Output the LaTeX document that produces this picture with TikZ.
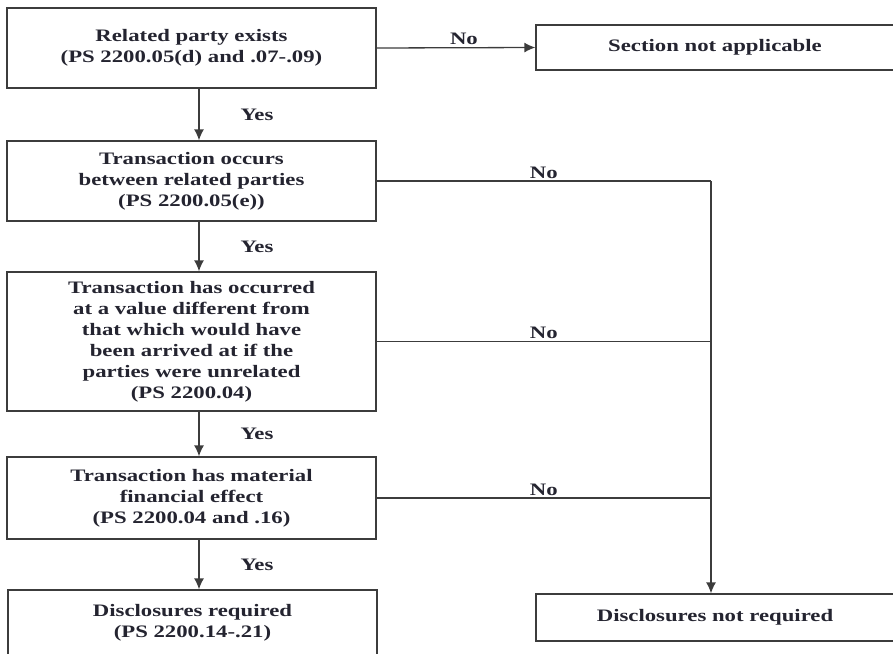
\documentclass[tikz,border=0pt]{standalone}
\usepackage{fontspec}
\setmainfont{Liberation Serif}[FakeStretch=1.3]
\usetikzlibrary{arrows.meta,calc}
\definecolor{fc_text}{RGB}{36, 36, 48}
\definecolor{fc_line}{RGB}{60, 60, 60}
\tikzstyle{bx}=[rectangle,draw=fc_line,line width=1.3pt,fill=white,
  text=fc_text,font=\fontsize{17.5}{21}\selectfont\bfseries,align=center,
  minimum width=369pt,inner sep=0pt]
\tikzstyle{lbl}=[text=fc_text,font=\fontsize{17.5}{21}\selectfont\bfseries,inner sep=2pt]
\tikzstyle{ln}=[draw=fc_line,line width=1.3pt]
\tikzstyle{arr}=[ln,-{Latex[length=11pt,width=10pt]}]
\tikzstyle{none}=[]

\begin{document}
\begin{tikzpicture}[x=1pt, y=-1pt]
            \useasboundingbox (0, 0) rectangle (893, 653);
            \clip (0, 0) rectangle (893, 653);
            \node [style=bx, minimum height=80pt] (0) at (191.5, 48) {Related party exists\\(PS 2200.05(d) and .07-.09)};
            \node [style=bx, minimum width=358pt, minimum height=45pt] (1) at (715, 47.5) {Section not applicable};
            \node [style=bx, minimum height=80pt] (2) at (191.5, 181) {Transaction occurs\\between related parties\\(PS 2200.05(e))};
            \node [style=bx, minimum height=139pt] (3) at (191.5, 341.5) {Transaction has occurred\\at a value different from\\that which would have\\been arrived at if the\\parties were unrelated\\(PS 2200.04)};
            \node [style=bx, minimum height=82pt] (4) at (191.5, 498) {Transaction has material\\financial effect\\(PS 2200.04 and .16)};
            \node [style=bx, minimum height=66pt] (5) at (192.5, 623) {Disclosures required\\(PS 2200.14-.21)};
            \node [style=bx, minimum width=358pt, minimum height=47pt] (6) at (715, 617.5) {Disclosures not required};
            \coordinate (7) at (711, 181);
            \draw [style=arr] (0.east) to node [style=lbl, above, pos=0.55] {No} (1.west);
            \draw [style=arr] ([xshift=7.5pt]0.south) to node [style=lbl, midway, xshift=58pt] {Yes} ([xshift=7.5pt]2.north);
            \draw [style=arr] ([xshift=7.5pt]2.south) to node [style=lbl, midway, xshift=58pt] {Yes} ([xshift=7.5pt]3.north);
            \draw [style=arr] ([xshift=7.5pt]3.south) to node [style=lbl, midway, xshift=58pt] {Yes} ([xshift=7.5pt]4.north);
            \draw [style=arr] ([xshift=7.5pt]4.south) to node [style=lbl, midway, xshift=58pt] {Yes} ([xshift=6.5pt]5.north);
            \draw [style=ln] (2.east) to node [style=lbl, above] {No} (7);
            \draw [style=ln] (3.east) to node [style=lbl, above] {No} (3.east -| 7);
            \draw [style=ln] (4.east) to node [style=lbl, above] {No} (4.east -| 7);
            \draw [style=arr] (7) to (7 |- 6.north);
    \end{tikzpicture}
\end{document}
